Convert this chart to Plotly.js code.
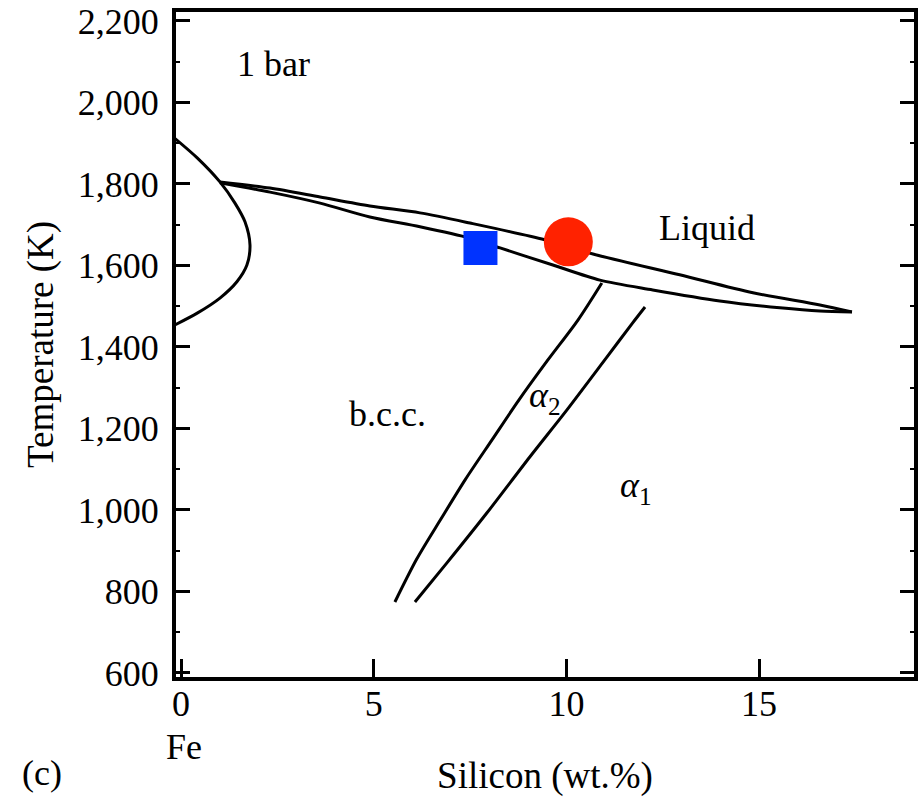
<!DOCTYPE html>
<html>
<head>
<meta charset="utf-8">
<script src="https://cdn.plot.ly/plotly-3.0.1.min.js"></script>
<style>html,body{margin:0;padding:0;background:#fff;}#chart{width:923px;height:797px;}</style>
</head>
<body>
<div id="chart"></div>
<script>
// Fe–Si phase diagram, 1 bar
var loopSi = [-0.2, 0.42, 1.01, 1.40, 1.66, 1.79, 1.71, 1.45, 1.01, 0.42, -0.2];
var loopT  = [1915, 1864, 1805, 1753, 1707, 1650, 1601, 1560, 1520, 1483, 1452];

var liquidusSi = [1.01, 2.31, 3.61, 4.90, 6.20, 7.50, 9.44, 10.69, 12.94, 14.84, 16.58, 17.41];
var liquidusT  = [1805, 1790, 1768, 1746, 1729, 1704, 1663, 1628, 1577, 1533, 1503, 1486];

var solidusSi = [1.01, 2.31, 3.61, 4.90, 6.20, 7.50, 8.28, 9.65, 10.87, 12.24, 13.98, 15.54, 16.58, 17.41];
var solidusT  = [1803, 1780, 1753, 1719, 1695, 1667, 1643, 1601, 1564, 1540, 1513, 1496, 1488, 1486];

var bccA2Si = [5.55, 6.12, 6.74, 7.38, 8.07, 8.77, 9.52, 10.30, 10.92];
var bccA2T  = [774, 880, 977, 1075, 1172, 1270, 1368, 1466, 1557];

var a2A1Si = [6.07, 6.90, 7.94, 9.05, 10.01, 11.05, 11.72, 12.04];
var a2A1T  = [774, 870, 993, 1130, 1245, 1375, 1459, 1498];

var squareSi = [7.77], squareT = [1643];
var circleSi = [10.05], circleT = [1658];

var yTickVals = [600, 800, 1000, 1200, 1400, 1600, 1800, 2000, 2200];
var xTickVals = [0, 5, 10, 15];

var labelText = ['1 bar', 'b.c.c.', 'Liquid', '<i>α</i><sub>2</sub>', '<i>α</i><sub>1</sub>'];
var labelSi   = [2.39, 5.37, 13.64, 9.44, 11.80];
var labelT    = [2094, 1236, 1692, 1275, 1054];

var FONT = 'Liberation Serif, Times New Roman, serif';
var FS = 36;
var lineStyle = {color: '#000', width: 3, shape: 'spline', smoothing: 0.8};

var traces = [
  {x: loopSi, y: loopT, mode: 'lines', line: lineStyle, hoverinfo: 'skip'},
  {x: liquidusSi, y: liquidusT, mode: 'lines', line: lineStyle, hoverinfo: 'skip'},
  {x: solidusSi, y: solidusT, mode: 'lines', line: lineStyle, hoverinfo: 'skip'},
  {x: bccA2Si, y: bccA2T, mode: 'lines', line: lineStyle, hoverinfo: 'skip'},
  {x: a2A1Si, y: a2A1T, mode: 'lines', line: lineStyle, hoverinfo: 'skip'},
  {x: squareSi, y: squareT, mode: 'markers', marker: {symbol: 'square', size: 34, color: '#0033ff'}},
  {x: circleSi, y: circleT, mode: 'markers', marker: {symbol: 'circle', size: 49, color: '#ff2200'}}
];

var L = 176, R = 9, T = 12, B = 120, W = 923, H = 797;
function px2paperX(p) { return (p - L) / (W - L - R); }
function px2paperY(p) { return (H - B - p) / (H - T - B); }

var annotations = labelText.map(function (t, i) {
  return {x: labelSi[i], y: labelT[i], xref: 'x', yref: 'y', text: t, showarrow: false,
          xanchor: 'center', yanchor: 'middle',
          font: {family: FONT, size: FS, color: '#000'}};
});
annotations.push({x: px2paperX(184), y: px2paperY(747), xref: 'paper', yref: 'paper', text: 'Fe',
                  showarrow: false, xanchor: 'center', yanchor: 'middle',
                  font: {family: FONT, size: FS, color: '#000'}});
annotations.push({x: px2paperX(42), y: px2paperY(773), xref: 'paper', yref: 'paper', text: '(c)',
                  showarrow: false, xanchor: 'center', yanchor: 'middle',
                  font: {family: FONT, size: FS, color: '#000'}});

var layout = {
  width: W, height: H,
  margin: {l: L, r: R, t: T, b: B, pad: 0},
  paper_bgcolor: '#fff', plot_bgcolor: '#fff',
  showlegend: false,
  font: {family: FONT, size: FS, color: '#000'},
  xaxis: {
    range: [-0.13, 19.02], tickvals: xTickVals, ticktext: xTickVals.map(String),
    ticks: 'inside', ticklen: 18, tickwidth: 3, tickcolor: '#000',
    showline: true, linewidth: 4, linecolor: '#000', mirror: true,
    showgrid: false, zeroline: false, ticklabelstandoff: -8,
    tickfont: {family: FONT, size: FS, color: '#000'},
    title: {text: 'Silicon (wt.%)', font: {family: FONT, size: FS + 1, color: '#000'}, standoff: 46}
  },
  yaxis: {
    range: [590, 2222], tickvals: yTickVals, tickformat: ',d',
    ticks: 'inside', ticklen: 14, tickwidth: 3, tickcolor: '#000',
    minor: {dtick: 100, tick0: 600, ticks: 'inside', ticklen: 4, tickwidth: 2, tickcolor: '#000'},
    showline: true, linewidth: 4, linecolor: '#000', mirror: 'ticks',
    showgrid: false, zeroline: false, ticklabelstandoff: 6,
    tickfont: {family: FONT, size: FS, color: '#000'},
    title: {text: 'Temperature (K)', font: {family: FONT, size: FS + 1, color: '#000'}, standoff: 14}
  },
  annotations: annotations
};

Plotly.newPlot('chart', traces, layout, {displayModeBar: false, staticPlot: true});
</script>
</body>
</html>
